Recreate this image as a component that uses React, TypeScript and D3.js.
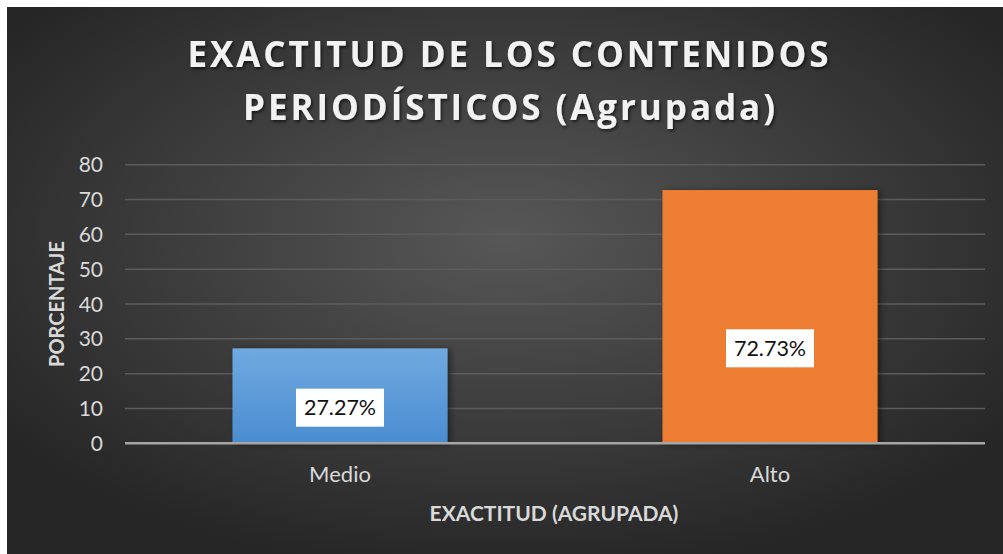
import { scaleBand, scaleLinear } from "d3";

const categories = ["Medio", "Alto"];
const values = [27.27, 72.73];
const valueLabels = ["27.27%", "72.73%"];
const yTicks = [0, 10, 20, 30, 40, 50, 60, 70, 80];
const titleLines = ["EXACTITUD DE LOS CONTENIDOS", "PERIODÍSTICOS (Agrupada)"];
const xTitle = "EXACTITUD (AGRUPADA)";
const yTitle = "PORCENTAJE";

const width = 1003;
const height = 554;
const plot = { left: 125, right: 985, top: 164.7, bottom: 443.3 };
const font = "Lato, 'Open Sans', sans-serif";

const App = () => {
  const xScale = scaleBand()
    .domain(categories)
    .range([plot.left, plot.right])
    .paddingInner(0.5)
    .paddingOuter(0.25);

  const yScale = scaleLinear().domain([0, 80]).range([plot.bottom, plot.top]);

  return (
    <div style={{ position: "absolute", left: 0, top: 0 }}>
      <svg width={width} height={height} style={{ display: "block", background: "#fff" }}>
        <defs>
          <radialGradient id="bg" cx="50%" cy="42%" r="62%">
            <stop offset="0%" stopColor="#575757" />
            <stop offset="100%" stopColor="#262626" />
          </radialGradient>
          <linearGradient id="blue" x1="0" y1="0" x2="0" y2="1">
            <stop offset="0%" stopColor="#70a9e0" />
            <stop offset="100%" stopColor="#4a8dd0" />
          </linearGradient>
          <filter id="tshadow" x="-10%" y="-30%" width="120%" height="160%">
            <feDropShadow dx="1.5" dy="2" stdDeviation="1.5" floodColor="#000" floodOpacity="0.6" />
          </filter>
          <filter id="bshadow" x="-10%" y="-10%" width="125%" height="120%">
            <feDropShadow dx="3" dy="1" stdDeviation="3" floodColor="#000" floodOpacity="0.45" />
          </filter>
        </defs>

        <rect x={7} y={7} width={width - 7} height={height - 7} fill="url(#bg)" />

        {/* title */}
        <g
          fill="#f2f2f2"
          fontFamily="'Open Sans', Lato, sans-serif"
          fontWeight="bold"
          fontSize={35}
          textAnchor="middle"
          filter="url(#tshadow)"
        >
          <text x={508} y={67} textLength={641} lengthAdjust="spacing">
            {titleLines[0]}
          </text>
          <text x={509} y={120} textLength={532} lengthAdjust="spacing">
            {titleLines[1]}
          </text>
        </g>

        {/* gridlines */}
        {yTicks.slice(1).map((t) => (
          <line
            key={t}
            x1={plot.left}
            x2={plot.right}
            y1={yScale(t)}
            y2={yScale(t)}
            stroke="#5c5c5c"
            strokeWidth={1.5}
          />
        ))}

        {/* y tick labels */}
        {yTicks.map((t) => (
          <text
            key={t}
            x={103}
            y={yScale(t)}
            dy="0.36em"
            textAnchor="end"
            fill="#d9d9d9"
            fontFamily={font}
            fontSize={21}
          >
            {t}
          </text>
        ))}

        {/* bars */}
        {categories.map((c, i) => (
          <rect
            key={c}
            x={xScale(c)}
            y={yScale(values[i])}
            width={xScale.bandwidth()}
            height={yScale(0) - yScale(values[i])}
            fill={i === 0 ? "url(#blue)" : "#ed7d31"}
            filter="url(#bshadow)"
          />
        ))}

        {/* baseline */}
        <line
          x1={plot.left}
          x2={plot.right}
          y1={yScale(0)}
          y2={yScale(0)}
          stroke="#a6a6a6"
          strokeWidth={2.5}
        />

        {/* data labels */}
        {categories.map((c, i) => {
          const cx = (xScale(c) ?? 0) + xScale.bandwidth() / 2;
          const cy = yScale(values[i] * 0.375);
          return (
            <g key={c}>
              <rect x={cx - 44} y={cy - 19} width={88} height={38} fill="#fff" />
              <text
                x={cx}
                y={cy}
                dy="0.36em"
                textAnchor="middle"
                fill="#111"
                fontFamily={font}
                fontSize={21.5}
              >
                {valueLabels[i]}
              </text>
            </g>
          );
        })}

        {/* category labels */}
        {categories.map((c) => (
          <text
            key={c}
            x={(xScale(c) ?? 0) + xScale.bandwidth() / 2}
            y={482}
            textAnchor="middle"
            fill="#d9d9d9"
            fontFamily={font}
            fontSize={22}
          >
            {c}
          </text>
        ))}

        {/* axis titles */}
        <text
          x={(plot.left + plot.right) / 2 - 1}
          y={521}
          textAnchor="middle"
          fill="#d9d9d9"
          fontFamily={font}
          fontWeight="bold"
          fontSize={21}
        >
          {xTitle}
        </text>
        <text
          transform={`translate(64, ${(plot.top + plot.bottom) / 2}) rotate(-90)`}
          textAnchor="middle"
          fill="#d9d9d9"
          fontFamily={font}
          fontWeight="bold"
          fontSize={20}
        >
          {yTitle}
        </text>
      </svg>
    </div>
  );
};

export default App;
